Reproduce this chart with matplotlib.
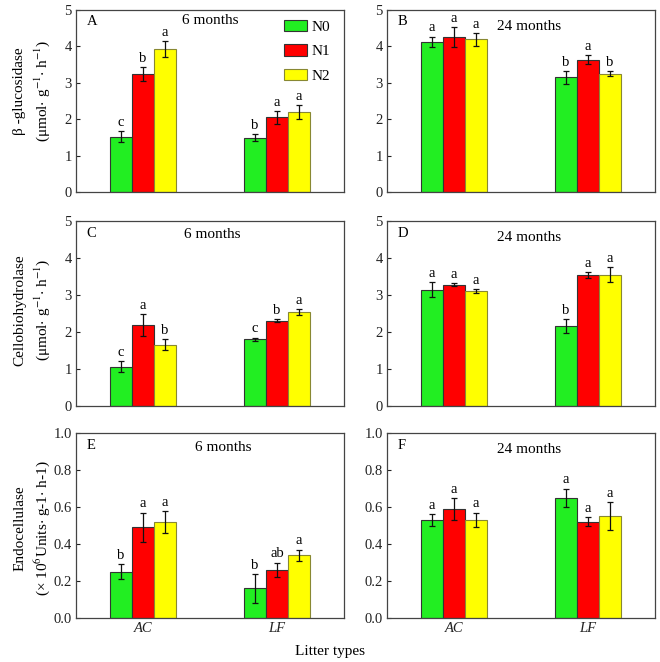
import matplotlib
matplotlib.use("Agg")
import matplotlib.pyplot as plt
import numpy as np
from matplotlib.patches import Patch

plt.rcParams['font.family'] = ['Liberation Serif', 'DejaVu Serif']
plt.rcParams['mathtext.fontset'] = 'stix'
plt.rcParams['font.size'] = 10

categories = ["AC", "LF"]
treatments = ["N0", "N1", "N2"]
colors = ["#22ee22", "#ff0000", "#ffff00"]
edgecolors = ["#333333", "#333333", "#888833"]

# Panel A: beta-glucosidase, 6 months
A_vals = [[1.52, 1.49], [3.24, 2.05], [3.92, 2.19]]
A_err = [[0.15, 0.09], [0.20, 0.18], [0.22, 0.19]]
A_let = [["c", "b"], ["b", "a"], ["a", "a"]]
# Panel B: beta-glucosidase, 24 months
B_vals = [[4.13, 3.15], [4.25, 3.64], [4.19, 3.25]]
B_err = [[0.14, 0.17], [0.27, 0.12], [0.18, 0.07]]
B_let = [["a", "b"], ["a", "a"], ["a", "b"]]
# Panel C: cellobiohydrolase, 6 months
C_vals = [[1.06, 1.80], [2.19, 2.31], [1.66, 2.53]]
C_err = [[0.15, 0.05], [0.30, 0.05], [0.14, 0.08]]
C_let = [["c", "c"], ["a", "b"], ["b", "a"]]
# Panel D: cellobiohydrolase, 24 months
D_vals = [[3.14, 2.16], [3.28, 3.54], [3.11, 3.55]]
D_err = [[0.20, 0.18], [0.04, 0.07], [0.06, 0.20]]
D_let = [["a", "b"], ["a", "a"], ["a", "a"]]
# Panel E: endocellulase, 6 months
E_vals = [[0.25, 0.16], [0.49, 0.26], [0.52, 0.34]]
E_err = [[0.04, 0.08], [0.08, 0.04], [0.06, 0.03]]
E_let = [["b", "b"], ["a", "ab"], ["a", "a"]]
# Panel F: endocellulase, 24 months
F_vals = [[0.53, 0.65], [0.59, 0.52], [0.53, 0.55]]
F_err = [[0.03, 0.05], [0.06, 0.025], [0.04, 0.076]]
F_let = [["a", "a"], ["a", "a"], ["a", "a"]]

panels = [
    ("A", "6 months", A_vals, A_err, A_let, 5, (0.50, 0.94)),
    ("B", "24 months", B_vals, B_err, B_let, 5, (0.53, 0.91)),
    ("C", "6 months", C_vals, C_err, C_let, 5, (0.51, 0.925)),
    ("D", "24 months", D_vals, D_err, D_let, 5, (0.53, 0.91)),
    ("E", "6 months", E_vals, E_err, E_let, 1.0, (0.55, 0.92)),
    ("F", "24 months", F_vals, F_err, F_let, 1.0, (0.53, 0.91)),
]

fig = plt.figure(figsize=(6.6, 6.62), dpi=100)
W, H = 660, 662
lefts = [76, 387]
rows = [(10, 192), (221, 406), (433, 618)]
axw = 268

x = np.arange(len(categories))
bw = 0.165
for i, (lab, period, vals, errs, lets, ymax, tpos) in enumerate(panels):
    r, c = divmod(i, 2)
    top, bot = rows[r]
    ax = fig.add_axes([lefts[c] / W, 1 - bot / H, axw / W, (bot - top) / H])
    for k in range(3):
        pos = x + (k - 1) * bw
        ax.bar(pos, vals[k], bw, color=colors[k], edgecolor=edgecolors[k],
               linewidth=0.8, label=treatments[k], zorder=2)
        ax.errorbar(pos, vals[k], yerr=errs[k], fmt='none', ecolor='#111111',
                    elinewidth=0.9, capsize=2, capthick=0.9, zorder=3)
        for j in range(len(categories)):
            ax.annotate(lets[k][j], (pos[j], vals[k][j] + errs[k][j]),
                        xytext=(0, 1.5), textcoords='offset points',
                        ha='center', va='bottom', fontsize=10.5)
    ax.set_xlim(-0.5, 1.5)
    ax.set_ylim(0, ymax)
    if ymax == 5:
        ax.set_yticks([0, 1, 2, 3, 4, 5])
        ax.set_yticklabels(["0", "1", "2", "3", "4", "5"])
    else:
        ax.set_yticks([0, 0.2, 0.4, 0.6, 0.8, 1.0])
        ax.set_yticklabels(["0.0", "0.2", "0.4", "0.6", "0.8", "1.0"])
    ax.set_xticks(x)
    if r == 2:
        ax.set_xticklabels(categories, fontstyle='italic')
    else:
        ax.set_xticklabels([])
    ax.tick_params(direction='in', length=3, width=0.8, labelsize=10.5, pad=3,
                   colors='#222222')
    for s in ax.spines.values():
        s.set_color('#444444')
        s.set_linewidth(0.9)
    ax.text(0.04, 0.97, lab, transform=ax.transAxes, ha='left', va='top', fontsize=10.5)
    ax.text(tpos[0], tpos[1], period, transform=ax.transAxes, ha='center', va='center',
            fontsize=11)
    if i == 0:
        handles = [Patch(facecolor=colors[k], edgecolor=edgecolors[k], linewidth=0.8)
                   for k in range(3)]
        ax.legend(handles, treatments, loc='upper right', frameon=False,
                  fontsize=11, handlelength=1.5, handleheight=0.75,
                  labelspacing=0.7, handletextpad=0.3, borderaxespad=0.0,
                  bbox_to_anchor=(0.97, 0.98))

# y labels
ylabs = [
    ("β -glucosidase", r"(μmol$\cdot$ g$^{-1}$$\cdot$ h$^{-1}$)", 91),
    ("Cellobiohydrolase", r"(μmol$\cdot$ g$^{-1}$$\cdot$ h$^{-1}$)", 310),
    ("Endocellulase", r"(× 10$^{6}$Units$\cdot$ g-1$\cdot$ h-1)", 528),
]
for l1, l2, ypix in ylabs:
    yc = 1 - ypix / H
    fig.text(20 / W, yc, l1, rotation=90, ha='center', va='center', fontsize=11)
    fig.text(42 / W, yc, l2, rotation=90, ha='center', va='center', fontsize=11)

fig.text(330 / W, 1 - 652 / H, "Litter types", ha='center', va='center', fontsize=11)

fig.savefig("out.png", dpi=100)
